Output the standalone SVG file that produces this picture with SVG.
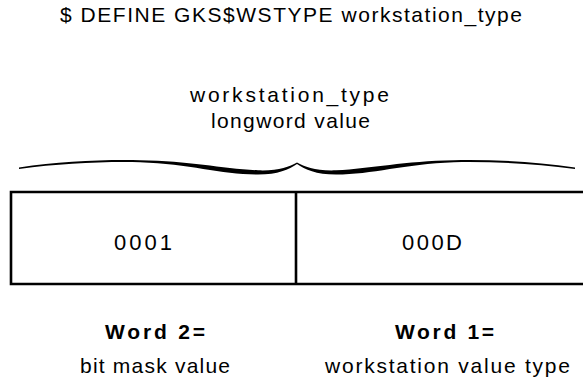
<svg xmlns="http://www.w3.org/2000/svg" width="583" height="387" viewBox="0 0 583 387">
<style>
text{font-family:"Liberation Sans",Arial,sans-serif;font-size:21px;fill:#000;text-anchor:start}
.b{font-weight:bold}
.n{font-size:22px}
.ln{stroke:#000;stroke-width:2.6;fill:none}
</style>
<rect width="583" height="387" fill="#fff"/>
<g id="title"><text x="60" y="22" textLength="462" lengthAdjust="spacing">$ DEFINE GKS$WSTYPE workstation_type</text></g>
<g id="label"><text x="190" y="102" textLength="199" lengthAdjust="spacing">workstation_type</text><text x="211" y="128" textLength="159" lengthAdjust="spacing">longword value</text></g>
<g id="brace">
<path id="half" d="M19,167.5 C60,161.5 100,159.5 140,160.2 C190,161 222,168.5 258,170.3 C278,171 289,167 297,162.5 L297,164 C289,169.5 278,174.5 258,174.5 C222,174.5 190,164 140,162.2 C100,161.5 60,163.5 19,169 Z" fill="#000"/>
<use href="#half" transform="translate(594,0) scale(-1,1)"/>
</g>
<g id="register">
<path class="ln" d="M583,192 L11,192 L11,284 L583,284"/>
<path class="ln" d="M296,192 L296,284"/>
</g>
<g id="word2"><text class="n" x="114" y="250" textLength="58" lengthAdjust="spacing">0001</text><text class="b" x="105" y="339" textLength="100" lengthAdjust="spacing">Word 2=</text><text x="80" y="373" textLength="150" lengthAdjust="spacing">bit mask value</text></g>
<g id="word1"><text class="n" x="402" y="250" textLength="60" lengthAdjust="spacing">000D</text><text class="b" x="395" y="339" textLength="99" lengthAdjust="spacing">Word 1=</text><text x="325" y="373" textLength="245" lengthAdjust="spacing">workstation value type</text></g>
</svg>
